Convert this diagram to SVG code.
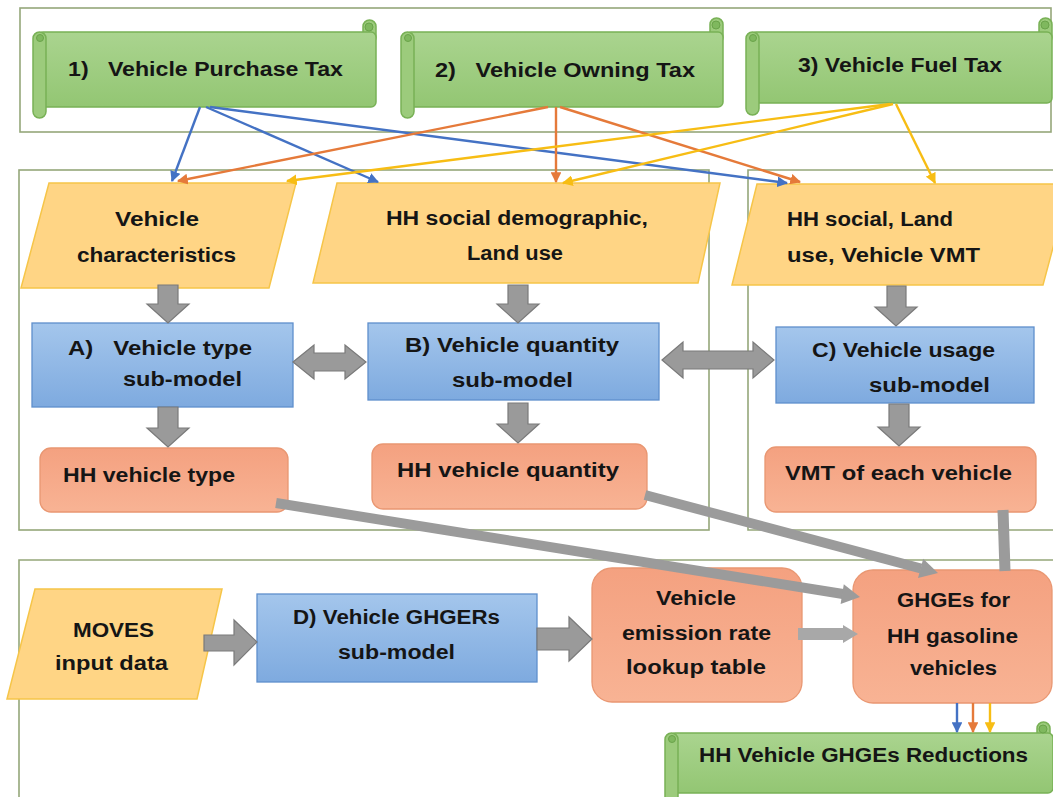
<svg xmlns="http://www.w3.org/2000/svg" width="1053" height="797" viewBox="0 0 1053 797">
<defs>
<style>
.cont{fill:none;stroke:#95a77a;stroke-width:1.6}
.scroll-body{fill:url(#gGreen);stroke:#78b155;stroke-width:1.5}
.scroll-roll{fill:#9ccb7c;stroke:#78b155;stroke-width:1.5}
.curl{fill:#7fb85e;stroke:#6aa34a;stroke-width:1}
.para{fill:#ffd585;stroke:#f6c548;stroke-width:1.5}
.blue{fill:url(#gBlue);stroke:#5f8fcc;stroke-width:1.3}
.orng{fill:url(#gOrng);stroke:#e99772;stroke-width:1.3}
.garr{fill:#9a9a9a;stroke:#7a7a7a;stroke-width:1.2}
.gline{stroke:#9b9b9b;stroke-width:10;fill:none}
.ghead{fill:#9b9b9b}
.t{font-family:"Liberation Sans",Arial,sans-serif;font-weight:bold;font-size:19.5px;fill:#151515;text-anchor:middle}
.ts{font-family:"Liberation Sans",Arial,sans-serif;font-weight:bold;font-size:19.5px;fill:#151515;text-anchor:start}
.pre{white-space:pre}
.cb{stroke:#4472c4;stroke-width:2.4;fill:none}
.co{stroke:#e57a3a;stroke-width:2.4;fill:none}
.cy{stroke:#f7bd14;stroke-width:2.4;fill:none}
</style>
<linearGradient id="gGreen" x1="0" y1="0" x2="0" y2="1"><stop offset="0" stop-color="#aad48f"/><stop offset="1" stop-color="#93c673"/></linearGradient>
<linearGradient id="gBlue" x1="0" y1="0" x2="0" y2="1"><stop offset="0" stop-color="#a4c6ec"/><stop offset="1" stop-color="#7eaadf"/></linearGradient>
<linearGradient id="gOrng" x1="0" y1="0" x2="0" y2="1"><stop offset="0" stop-color="#f4a180"/><stop offset="1" stop-color="#f8b394"/></linearGradient>
<marker id="mb" viewBox="0 0 10 10" refX="9" refY="5" markerWidth="4.5" markerHeight="4.5" orient="auto"><path d="M0,0 L10,5 L0,10 z" fill="#4472c4"/></marker>
<marker id="mo" viewBox="0 0 10 10" refX="9" refY="5" markerWidth="4.5" markerHeight="4.5" orient="auto"><path d="M0,0 L10,5 L0,10 z" fill="#e57a3a"/></marker>
<marker id="my" viewBox="0 0 10 10" refX="9" refY="5" markerWidth="4.5" markerHeight="4.5" orient="auto"><path d="M0,0 L10,5 L0,10 z" fill="#f7bd14"/></marker>
</defs>
<rect width="1053" height="797" fill="#ffffff"/>

<g id="containers">
<rect class="cont" x="20" y="8" width="1031" height="124"/>
<rect class="cont" x="19" y="170" width="690" height="360"/>
<path class="cont" d="M1056,170 H748 V530 H1056"/>
<path class="cont" d="M1056,560 H19 V800"/>
</g>

<g id="tax1">
<rect class="scroll-roll" x="363" y="20" width="13" height="24" rx="6.5"/>
<rect class="scroll-body" x="38" y="32" width="338" height="75" rx="5"/>
<circle class="curl" cx="369" cy="27" r="4"/>
<rect class="scroll-roll" x="33" y="32" width="13" height="86" rx="6.5"/>
<circle class="curl" cx="40" cy="38" r="3.5"/>
<text class="t pre" x="205.5" y="76" xml:space="preserve" textLength="275" lengthAdjust="spacingAndGlyphs">1)   Vehicle Purchase Tax</text>
</g>
<g id="tax2">
<rect class="scroll-roll" x="710" y="18" width="13" height="26" rx="6.5"/>
<rect class="scroll-body" x="406" y="32" width="317" height="75" rx="5"/>
<circle class="curl" cx="716" cy="25" r="4"/>
<rect class="scroll-roll" x="401" y="32" width="13" height="86" rx="6.5"/>
<circle class="curl" cx="408" cy="38" r="3.5"/>
<text class="t pre" x="565" y="77" xml:space="preserve" textLength="260" lengthAdjust="spacingAndGlyphs">2)   Vehicle Owning Tax</text>
</g>
<g id="tax3">
<rect class="scroll-roll" x="1039" y="18" width="13" height="26" rx="6.5"/>
<rect class="scroll-body" x="751" y="32" width="301" height="71" rx="5"/>
<circle class="curl" cx="1045" cy="25" r="4"/>
<rect class="scroll-roll" x="746" y="32" width="13" height="83" rx="6.5"/>
<circle class="curl" cx="753" cy="38" r="3.5"/>
<text class="t" x="900" y="72" textLength="204" lengthAdjust="spacingAndGlyphs">3) Vehicle Fuel Tax</text>
</g>

<g id="in-vehchar">
<polygon class="para" points="49,183 296,183 269,288 21,288"/>
<text class="t" x="157" y="226" textLength="84" lengthAdjust="spacingAndGlyphs">Vehicle</text>
<text class="t" x="156.5" y="262" textLength="159" lengthAdjust="spacingAndGlyphs">characteristics</text>
</g>
<g id="in-hhsocdem">
<polygon class="para" points="337,183 720,183 698,283 313,283"/>
<text class="t" x="517" y="225" textLength="262" lengthAdjust="spacingAndGlyphs">HH social demographic,</text>
<text class="t" x="515" y="260" textLength="96" lengthAdjust="spacingAndGlyphs">Land use</text>
</g>
<g id="in-hhsocvmt">
<polygon class="para" points="757,184 1070,184 1043,285 732,285"/>
<text class="ts" x="787" y="226" textLength="166" lengthAdjust="spacingAndGlyphs">HH social, Land</text>
<text class="ts" x="787" y="262" textLength="193" lengthAdjust="spacingAndGlyphs">use, Vehicle VMT</text>
</g>

<g id="model-a">
<rect class="blue" x="32" y="323" width="261" height="84"/>
<text class="t pre" x="160" y="355" xml:space="preserve" textLength="184" lengthAdjust="spacingAndGlyphs">A)   Vehicle type</text>
<text class="t" x="182.5" y="386" textLength="119" lengthAdjust="spacingAndGlyphs">sub-model</text>
</g>
<g id="model-b">
<rect class="blue" x="368" y="323" width="291" height="77"/>
<text class="t" x="512" y="352" textLength="214" lengthAdjust="spacingAndGlyphs">B) Vehicle quantity</text>
<text class="t" x="512.5" y="387" textLength="121" lengthAdjust="spacingAndGlyphs">sub-model</text>
</g>
<g id="model-c">
<rect class="blue" x="776" y="327" width="258" height="76"/>
<text class="t" x="903.5" y="357" textLength="183" lengthAdjust="spacingAndGlyphs">C) Vehicle usage</text>
<text class="t" x="929.5" y="392" textLength="121" lengthAdjust="spacingAndGlyphs">sub-model</text>
</g>

<g id="out-type">
<rect class="orng" x="40" y="448" width="248" height="64" rx="11"/>
<text class="t" x="149" y="482" textLength="172" lengthAdjust="spacingAndGlyphs">HH vehicle type</text>
</g>
<g id="out-qty">
<rect class="orng" x="372" y="444" width="275" height="65" rx="11"/>
<text class="t" x="508" y="477" textLength="222" lengthAdjust="spacingAndGlyphs">HH vehicle quantity</text>
</g>
<g id="out-vmt">
<rect class="orng" x="765" y="447" width="271" height="65" rx="11"/>
<text class="t" x="898.5" y="480" textLength="227" lengthAdjust="spacingAndGlyphs">VMT of each vehicle</text>
</g>

<g id="in-moves">
<polygon class="para" points="35,589 222,589 197,699 7,699"/>
<text class="t" x="113.5" y="637" textLength="81" lengthAdjust="spacingAndGlyphs">MOVES</text>
<text class="t" x="111.5" y="670" textLength="113" lengthAdjust="spacingAndGlyphs">input data</text>
</g>
<g id="model-d">
<rect class="blue" x="257" y="594" width="280" height="88"/>
<text class="t" x="396.5" y="624" textLength="207" lengthAdjust="spacingAndGlyphs">D) Vehicle GHGERs</text>
<text class="t" x="396.5" y="659" textLength="117" lengthAdjust="spacingAndGlyphs">sub-model</text>
</g>
<g id="lookup">
<rect class="orng" x="592" y="568" width="210" height="134" rx="20"/>
<text class="t" x="696" y="605" textLength="80" lengthAdjust="spacingAndGlyphs">Vehicle</text>
<text class="t" x="696.5" y="640" textLength="149" lengthAdjust="spacingAndGlyphs">emission rate</text>
<text class="t" x="696" y="674" textLength="140" lengthAdjust="spacingAndGlyphs">lookup table</text>
</g>
<g id="ghge">
<rect class="orng" x="853" y="570" width="199" height="133" rx="20"/>
<text class="t" x="953.5" y="607" textLength="113" lengthAdjust="spacingAndGlyphs">GHGEs for</text>
<text class="t" x="952.5" y="643" textLength="131" lengthAdjust="spacingAndGlyphs">HH gasoline</text>
<text class="t" x="953.5" y="675" textLength="87" lengthAdjust="spacingAndGlyphs">vehicles</text>
</g>
<g id="reductions">
<rect class="scroll-roll" x="1037" y="722" width="13" height="24" rx="6.5"/>
<rect class="scroll-body" x="670" y="733" width="383" height="60" rx="5"/>
<circle class="curl" cx="1043" cy="729" r="4"/>
<rect class="scroll-roll" x="665" y="733" width="13" height="70" rx="6.5"/>
<circle class="curl" cx="672" cy="739" r="3.5"/>
<text class="t" x="863.5" y="762" textLength="329" lengthAdjust="spacingAndGlyphs">HH Vehicle GHGEs Reductions</text>
</g>

<g id="connectors">
<path class="garr" d="M158,285 H178 V304 H189 L168,323 L147,304 H158 Z"/>
<path class="garr" d="M508,285 H528 V304 H539 L518,323 L497,304 H508 Z"/>
<path class="garr" d="M887,286 H906 V307 H917 L896,326 L875,307 H887 Z"/>
<path class="garr" d="M158,407 H178 V428 H189 L168,447 L147,428 H158 Z"/>
<path class="garr" d="M508,403 H528 V424 H539 L518,443 L497,424 H508 Z"/>
<path class="garr" d="M889,404 H909 V427 H920 L899,446 L878,427 H889 Z"/>
<path class="garr" d="M293,362 L314,345 V353 H345 V345 L366,362 L345,379 V371 H314 V379 Z"/>
<path class="garr" d="M662,360 L683,342 V351 H753 V342 L774,360 L753,378 V369 H683 V378 Z"/>
<path class="garr" d="M204,635 H234 V620 L257,642 L234,665 V651 H204 Z"/>
<path class="garr" d="M537,628 H569 V617 L592,639 L569,661 V650 H537 Z"/>
<path d="M798,628 H843 V625 L858,634 L843,643 V640 H798 Z" fill="#a8a8a8"/>

<line class="gline" x1="276" y1="503" x2="843" y2="594"/>
<polygon class="ghead" points="860,597 840.6,604 843.8,584.2"/>
<line class="gline" x1="645" y1="495" x2="921" y2="568.5"/>
<polygon class="ghead" points="938,573 918,578.1 923.2,558.7"/>
<line class="gline" x1="1003" y1="510" x2="1005" y2="571" style="stroke-width:11"/>

<line class="cb" x1="200" y1="107" x2="172" y2="181" marker-end="url(#mb)"/>
<line class="cb" x1="206" y1="107" x2="378" y2="182" marker-end="url(#mb)"/>
<line class="cb" x1="210" y1="107" x2="787" y2="183" marker-end="url(#mb)"/>
<line class="co" x1="548" y1="107" x2="178" y2="181" marker-end="url(#mo)"/>
<line class="co" x1="556" y1="107" x2="556" y2="182" marker-end="url(#mo)"/>
<line class="co" x1="560" y1="107" x2="800" y2="182" marker-end="url(#mo)"/>
<line class="cy" x1="890" y1="104" x2="287" y2="181" marker-end="url(#my)"/>
<line class="cy" x1="893" y1="104" x2="563" y2="183" marker-end="url(#my)"/>
<line class="cy" x1="896" y1="104" x2="935" y2="183" marker-end="url(#my)"/>

<line class="cb" x1="957" y1="703" x2="957" y2="732" marker-end="url(#mb)"/>
<line class="co" x1="973" y1="703" x2="973" y2="732" marker-end="url(#mo)"/>
<line class="cy" x1="990" y1="703" x2="990" y2="732" marker-end="url(#my)"/>
</g>
</svg>
